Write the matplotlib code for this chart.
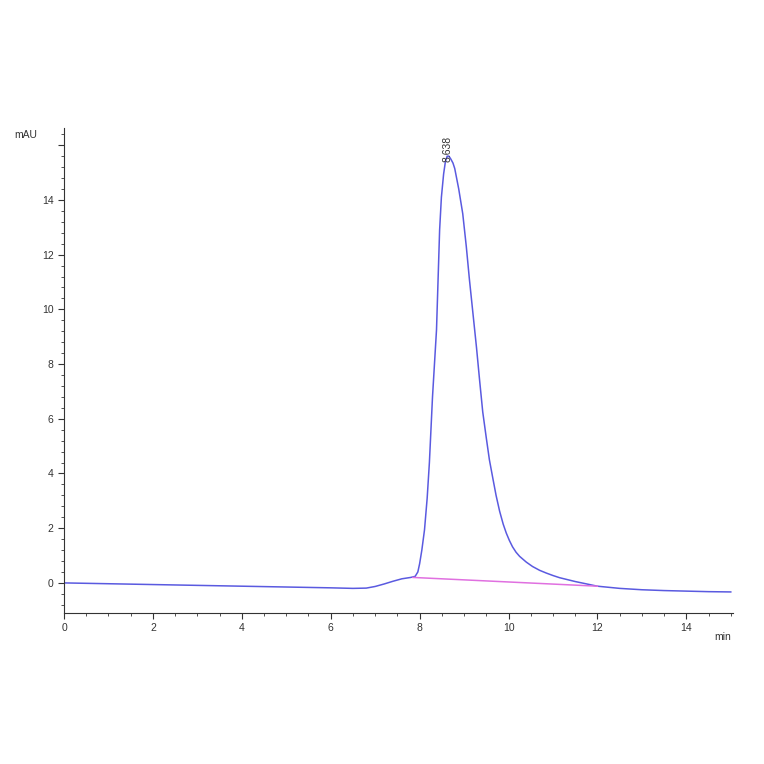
import matplotlib
matplotlib.use('Agg')
import matplotlib.pyplot as plt
from matplotlib.ticker import MultipleLocator

plt.rcParams['font.family'] = ['Liberation Sans', 'DejaVu Sans']

# chromatogram trace (min, mAU)
time = [0.0, 1.0, 2.0, 3.0, 4.0, 5.0, 6.0, 6.5, 6.8, 7.0, 7.2, 7.4, 7.6, 7.8, 7.9,
        7.96, 8.0, 8.05, 8.11, 8.17, 8.22, 8.29, 8.38, 8.45, 8.49, 8.54, 8.58, 8.62,
        8.66, 8.7, 8.75, 8.79, 8.88, 8.97, 9.05, 9.12, 9.2, 9.28, 9.35, 9.42, 9.5,
        9.57, 9.65, 9.72, 9.8, 9.88, 9.95, 10.02, 10.09, 10.17, 10.25, 10.4, 10.54,
        10.7, 10.85, 11.0, 11.15, 11.5, 12.0, 12.5, 13.0, 13.5, 14.0, 14.5, 15.0]
signal = [0.0, -0.03, -0.06, -0.09, -0.12, -0.15, -0.18, -0.2, -0.19, -0.13, -0.04, 0.06,
          0.15, 0.2, 0.24, 0.4, 0.7, 1.2, 1.94, 3.1, 4.4, 6.8, 9.25, 12.9, 14.1, 14.95,
          15.4, 15.6, 15.6, 15.5, 15.35, 15.15, 14.4, 13.5, 12.3, 11.1, 9.85, 8.6, 7.4,
          6.25, 5.3, 4.5, 3.8, 3.2, 2.62, 2.15, 1.82, 1.55, 1.32, 1.12, 0.97, 0.76, 0.6,
          0.46, 0.36, 0.27, 0.19, 0.05, -0.12, -0.2, -0.25, -0.28, -0.3, -0.32, -0.33]

# integration baseline
base_t = [7.85, 12.0]
base_y = [0.2, -0.12]

peak_rt = 8.638
peak_h = 15.6

fig = plt.figure(figsize=(7.64, 7.64), dpi=100)
ax = fig.add_axes([64 / 764, 1 - 613 / 764, (733 - 64) / 764, (613 - 128) / 764])

ax.plot(time, signal, color='#5a5ae0', lw=1.1)
ax.plot(base_t, base_y, color='#e070e0', lw=1.1)
ax.text(peak_rt, peak_h - 0.2, '%.3f' % peak_rt, rotation=90, ha='center', va='bottom',
        fontsize=7.5, color='#333333')

ax.set_xlim(0, 15.05)
ax.set_ylim(-1.1, 16.63)

ax.spines['top'].set_visible(False)
ax.spines['right'].set_visible(False)
for s in ['left', 'bottom']:
    ax.spines[s].set_color('#333333')
    ax.spines[s].set_linewidth(0.8)

ax.xaxis.set_major_locator(MultipleLocator(2))
ax.xaxis.set_minor_locator(MultipleLocator(0.5))
ax.yaxis.set_minor_locator(MultipleLocator(0.4))
ax.set_yticks(range(0, 17, 2))
ax.set_yticklabels([str(v) for v in range(0, 15, 2)] + [''])
ax.tick_params(which='major', length=4, width=0.8, labelsize=7.5, colors='#333333')
ax.tick_params(which='minor', length=2, width=0.6, colors='#333333')

ax.text(-0.04, 1.0 - 7 / 485, 'mAU', transform=ax.transAxes, ha='right', va='center',
        fontsize=7.5, color='#333333')
ax.text(0.985, -0.04, 'min', transform=ax.transAxes, ha='center', va='top',
        fontsize=7.5, color='#333333')

fig.savefig('out.png', dpi=100)
